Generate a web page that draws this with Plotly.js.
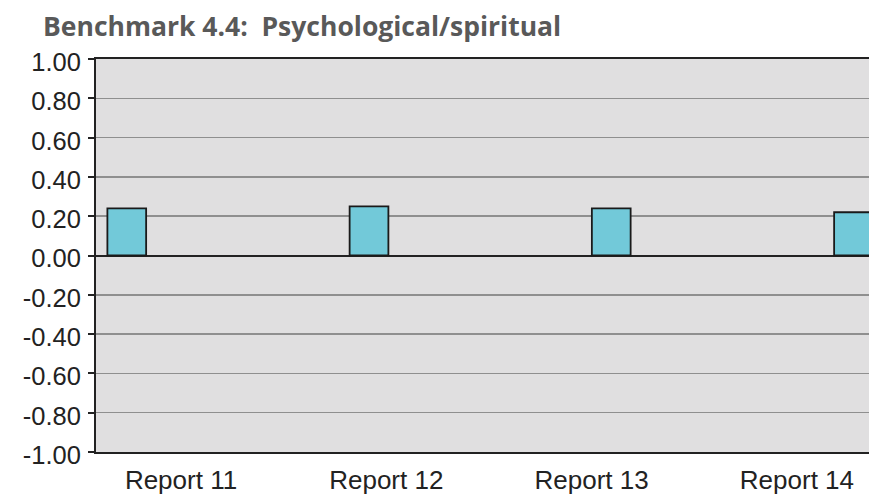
<!DOCTYPE html>
<html>
<head>
<meta charset="utf-8">
<script src="https://cdn.plot.ly/plotly-3.0.1.min.js"></script>
<style>html,body{margin:0;padding:0;background:#fff;}#chart{width:869px;height:497px;}</style>
</head>
<body>
<div id="chart"></div>
<script>
const categories = ['Report 11', 'Report 12', 'Report 13', 'Report 14'];
const values = [0.24, 0.25, 0.24, 0.22];
const yTickVals = [1, 0.8, 0.6, 0.4, 0.2, 0, -0.2, -0.4, -0.6, -0.8, -1];
const yTickLabels = ['1.00', '0.80', '0.60', '0.40', '0.20', '0.00', '-0.20', '-0.40', '-0.60', '-0.80', '-1.00'];
const chartTitle = 'Benchmark 4.4:\u00a0 Psychological/spiritual';

const trace = {
  type: 'bar',
  x: categories,
  y: values,
  width: 0.16,
  marker: { color: '#72c9d9', line: { color: '#1a1a1a', width: 1.8 } },
  hoverinfo: 'x+y',
  showlegend: false
};

// invisible carrier trace so the label axis (x2) is drawn
const labelTrace = {
  type: 'scatter',
  mode: 'markers',
  x: categories.map((c, i) => i),
  y: values,
  xaxis: 'x2',
  yaxis: 'y',
  marker: { opacity: 0, size: 1 },
  hoverinfo: 'skip',
  showlegend: false
};

const layout = {
  width: 869,
  height: 497,
  margin: { l: 96, r: 0, t: 59, b: 45, pad: 0 },
  paper_bgcolor: '#ffffff',
  plot_bgcolor: '#e0dfe0',
  title: {
    text: '<b>' + chartTitle + '</b>',
    font: { family: '"Open Sans", Lato, sans-serif', size: 26.5, color: '#595959' },
    x: 43 / 869, xanchor: 'left', xref: 'container',
    y: 1 - 36 / 497, yanchor: 'bottom', yref: 'container'
  },
  xaxis: {
    type: 'category',
    categoryorder: 'array',
    categoryarray: categories,
    range: [-0.127, 3.064],
    showticklabels: false,
    ticks: '',
    showgrid: false,
    showline: true,
    mirror: true,
    linecolor: '#222',
    linewidth: 2,
    zeroline: false,
    fixedrange: true
  },
  xaxis2: {
    overlaying: 'x',
    anchor: 'y',
    side: 'bottom',
    type: 'linear',
    range: [-0.414, 3.351],
    tickmode: 'array',
    tickvals: categories.map((c, i) => i),
    ticktext: categories,
    ticks: '',
    ticklabelstandoff: 10,
    showgrid: false,
    showline: false,
    zeroline: false,
    tickfont: { family: '"Liberation Sans", Arial, sans-serif', size: 26, color: '#222' },
    fixedrange: true
  },
  yaxis: {
    range: [-1, 1],
    tickmode: 'array',
    tickvals: yTickVals,
    ticktext: yTickLabels,
    ticks: 'outside',
    ticklen: 6,
    tickwidth: 2,
    tickcolor: '#222',
    ticklabelstandoff: 2,
    ticklabelshift: 3,
    showline: true,
    linecolor: '#222',
    linewidth: 2,
    showgrid: true,
    gridcolor: '#8f8f8f',
    gridwidth: 1.5,
    zeroline: true,
    zerolinecolor: '#222',
    zerolinewidth: 2,
    tickfont: { family: '"Liberation Sans", Arial, sans-serif', size: 25.5, color: '#222' },
    fixedrange: true
  },
  bargap: 0
};

Plotly.newPlot('chart', [trace, labelTrace], layout, { displayModeBar: false, staticPlot: true });
</script>
</body>
</html>
